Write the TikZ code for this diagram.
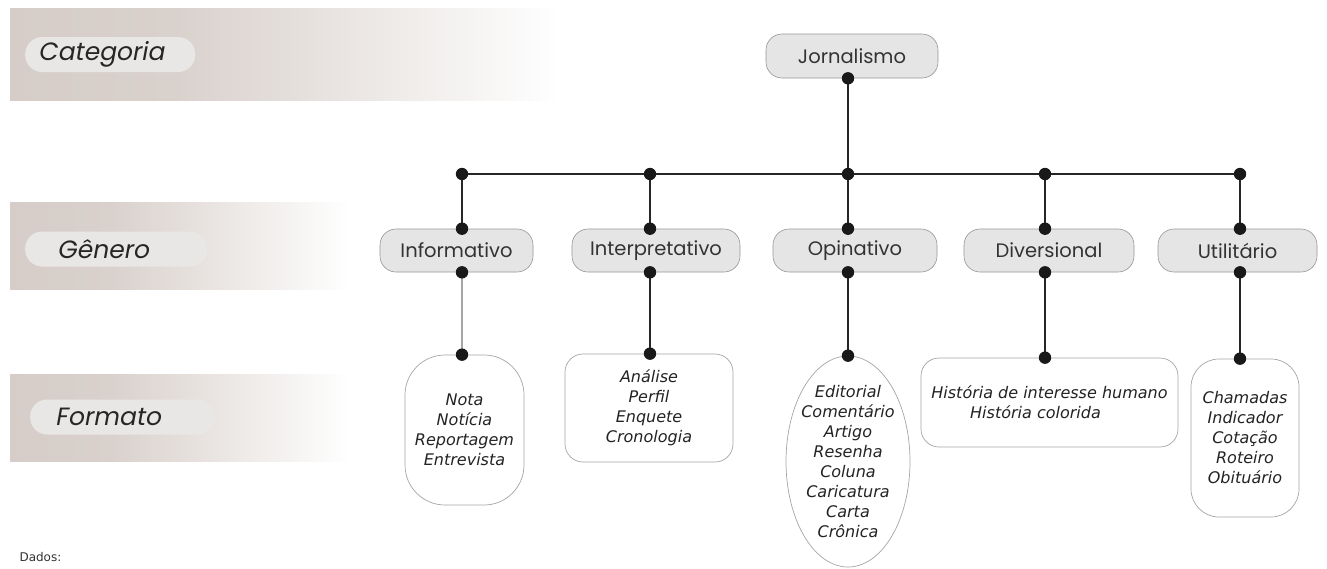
\documentclass[tikz,border=0pt]{standalone}
\usepackage{fontspec}
\setmainfont{DejaVu Sans}
\newfontfamily\gothic{Poppins}
\newfontfamily\gothicsl[FakeSlant=0.18]{Poppins}
\usetikzlibrary{shapes.geometric}

\definecolor{band}{RGB}{214,205,200}
\definecolor{pill}{RGB}{233,231,230}
\definecolor{gbox}{RGB}{229,229,229}
\definecolor{gline}{RGB}{150,150,150}
\definecolor{fline}{RGB}{165,165,165}
\definecolor{ftext}{RGB}{35,35,35}

\pgfdeclarehorizontalshading{bandshade}{100bp}{color(0bp)=(band); color(25bp)=(band); color(40bp)=(band!92!white); color(62bp)=(band!35!white); color(75bp)=(white); color(100bp)=(white)}

\tikzset{
  catpill/.style={rectangle, rounded corners=17pt, fill=pill, inner ysep=0pt, minimum height=35pt,
    align=left, anchor=west, text=black!85, font=\gothicsl\fontsize{25}{27}\selectfont},
  gen/.style={rectangle, rounded corners=16pt, draw=gline, fill=gbox, line width=0.6pt, inner sep=0pt,
    minimum height=43pt, text=black!80, font=\gothic\fontsize{19.5}{22}\selectfont},
  fmt/.style={rectangle, draw=fline, fill=white, line width=0.7pt, inner sep=2pt, align=center,
    text=ftext, font=\itshape\fontsize{16}{20}\selectfont},
  link/.style={line width=2.7pt, black!85},
  thinlink/.style={line width=1.1pt, black!35},
  dotfill/.style={fill=black!90},
}

\begin{document}
\begin{tikzpicture}[x=1pt,y=-1pt]
\useasboundingbox (0,0) rectangle (1327,568);

% background bands
\shade[shading=bandshade] (10,8) rectangle (560,100);
\shade[shading=bandshade] (10,202) rectangle (350,289);
\shade[shading=bandshade] (10,374) rectangle (350,461);

% level labels
\node[catpill, minimum width=170pt, inner xsep=13pt, text width=144pt] (cat) at (25,54.5) {Categoria};
\node[catpill, minimum width=182pt, inner xsep=32pt, text width=118pt] (gen) at (25,249) {Gênero};
\node[catpill, minimum width=185pt, inner xsep=25pt, text width=135pt] (form) at (30,417) {Formato};

% root
\node[gen, minimum width=172pt, minimum height=44pt] (J) at (852,56) {Jornalismo};

% genre boxes
\node[gen, minimum width=153pt] (g1) at (456.5,250.5) {Informativo};
\node[gen, minimum width=168pt] (g2) at (656,250.5) {Interpretativo};
\node[gen, minimum width=164pt] (g3) at (855,250.5) {Opinativo};
\node[gen, minimum width=170pt] (g4) at (1049,250.5) {Diversional};
\node[gen, minimum width=159pt] (g5) at (1237.5,250.5) {Utilitário};

% format boxes
\node[fmt, rounded corners=40pt, minimum width=119pt, minimum height=150pt] (f1) at (464.5,430)
  {Nota\\Notícia\\Reportagem\\Entrevista};
\node[fmt, rounded corners=18pt, minimum width=168pt, minimum height=108pt] (f2) at (649,408)
  {Análise\\Perfil\\Enquete\\Cronologia};
\node[fmt, ellipse, inner sep=-6pt, minimum width=124pt, minimum height=211pt] (f3) at (848,461.5)
  {Editorial\\Comentário\\Artigo\\Resenha\\Coluna\\Caricatura\\Carta\\Crônica};
\node[fmt, rounded corners=18pt, minimum width=257pt, minimum height=89pt] (f4) at (1049.5,402.5)
  {História de interesse humano\\História colorida\hspace*{28pt}};
\node[fmt, rounded corners=28pt, minimum width=108pt, minimum height=158pt] (f5) at (1245,438)
  {Chamadas\\Indicador\\Cotação\\Roteiro\\Obituário};

% junction coordinates
\coordinate (c1) at (462,174);
\coordinate (c2) at (650,174);
\coordinate (c3) at (848,174);
\coordinate (c4) at (1045,174);
\coordinate (c5) at (1240,174);

% dot positions
\coordinate (dJ) at (J.south -| c3);
\foreach \i in {1,...,5} {
  \coordinate (dt\i) at (g\i.north -| c\i);
  \coordinate (db\i) at (g\i.south -| c\i);
  \coordinate (df\i) at (f\i.north -| c\i);
}

% connectors
\draw[link] (dJ) -- (c3);
\draw[link] (c1) -- (c5);
\foreach \i in {1,...,5} {
  \draw[link] (c\i) -- (dt\i);
}
\draw[thinlink] (db1) -- (df1);
\foreach \i in {2,...,5} {
  \draw[link] (db\i) -- (df\i);
}
% dots
\fill[dotfill] (dJ) circle (6.2pt);
\foreach \i in {1,...,5} {
  \fill[dotfill] (c\i) circle (6.2pt);
  \fill[dotfill] (dt\i) circle (6.2pt);
  \fill[dotfill] (db\i) circle (6.2pt);
  \fill[dotfill] (df\i) circle (6.2pt);
}

\node[anchor=west, text=black!80, font=\fontsize{12}{14}\selectfont] (dados) at (16,557) {Dados:};
\end{tikzpicture}
\end{document}
